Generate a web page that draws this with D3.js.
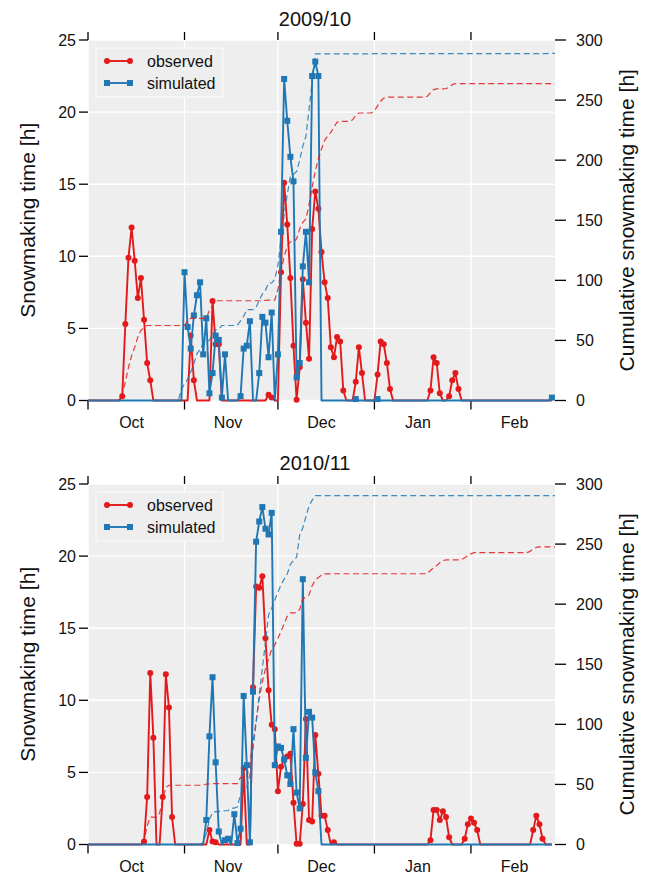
<!DOCTYPE html>
<html><head><meta charset="utf-8">
<script src="https://cdn.jsdelivr.net/npm/d3@7"></script>
<style>
body{margin:0;background:#fff}
text{font-family:"Liberation Sans",Arial,Helvetica,sans-serif;fill:#111}
</style>
</head><body>
<svg id="c" width="646" height="876"></svg>
<script>
// ---------------- DATA ----------------
const seasons = ["2009/10", "2010/11"];
const seasonStartYear = [2009, 2010];
const monthLabels = ["Oct", "Nov", "Dec", "Jan", "Feb"];
const yTicks = [0, 5, 10, 15, 20, 25];
const cumTicks = [0, 50, 100, 150, 200, 250, 300];
const seriesNames = ["observed", "simulated"];

// daily snowmaking hours, Oct 1 .. Feb 27 (150 days)
const observed0910 = [
  0,0,0,0,0,0,0,0,0,0,
  0,0.3,5.3,9.9,12.0,9.7,7.1,8.5,5.6,2.6,
  1.4,0,0,0,0,0,0,0,0,0,
  0,0,0,4.5,1.4,0,0,0,0,0,
  6.9,3.9,3.9,0,0,0,0,0,0,0,
  0,0,0,0,0,0,0,0,0.4,0.2,
  0,0,8.9,15.1,12.2,8.5,3.8,0.05,2.3,8.4,
  5.4,2.9,11.9,14.5,13.3,10.3,8.2,7.1,3.7,3.0,
  4.4,4.1,0.7,0,0,0,1.3,3.7,1.9,0,
  0,0,0,1.8,4.1,3.9,2.6,0.8,0,0,
  0,0,0,0,0,0,0,0,0,0,
  0.7,3.0,2.6,0.5,0,0,0.3,1.4,1.9,0.8,
  0,0,0,0,0,0,0,0,0,0,
  0,0,0,0,0,0,0,0,0,0,
  0,0,0,0,0,0,0,0,0,0
];
const simulated0910 = [
  0,0,0,0,0,0,0,0,0,0,
  0,0,0,0,0,0,0,0,0,0,
  0,0,0,0,0,0,0,0,0,0,
  0,8.9,5.1,3.6,5.9,7.3,8.2,3.2,5.7,0.5,
  1.9,4.5,4.2,0.2,3.2,0,0,0,0,0.3,
  3.6,3.8,5.5,0,0,1.9,5.8,5.4,3.0,6.1,
  0,3.2,11.7,22.3,19.4,16.9,15.2,1.6,2.6,9.3,
  11.7,8.2,22.5,23.5,22.5,0,0,0,0,0,
  0,0,0,0,0,0,0.1,0,0,0,
  0,0,0,0.1,0,0,0,0,0,0,
  0,0,0,0,0,0,0,0,0,0,
  0,0,0,0,0,0,0,0,0,0,
  0,0,0,0,0,0,0,0,0,0,
  0,0,0,0,0,0,0,0,0,0,
  0,0,0,0,0,0,0,0,0,0.2
];
const observed1011 = [
  0,0,0,0,0,0,0,0,0,0,
  0,0,0,0,0,0,0,0,0.2,3.3,
  11.9,7.4,0,0,3.3,11.8,9.5,1.9,0,0,
  0,0,0,0,0,0,0,0,0,1.0,
  0.2,0.15,0,0,0,0,0,0,0,0,
  5.3,0,0,10.9,17.9,17.8,18.6,14.3,10.7,8.3,
  8.0,3.7,5.4,5.9,6.1,6.3,2.9,0.05,0.05,2.8,
  8.7,1.7,1.6,7.6,4.9,2.0,2.0,1.0,0,0.15,
  0,0,0,0,0,0,0,0,0,0,
  0,0,0,0,0,0,0,0,0,0,
  0,0,0,0,0,0,0,0,0,0,
  0.3,2.4,2.4,1.7,2.3,1.9,0.5,0,0,0,
  0,0.4,1.4,1.8,1.5,1.0,0,0,0,0,
  0,0,0,0,0,0,0,0,0,0,
  0,0,0,1.0,2.0,1.4,0.4,0,0,0
];
const simulated1011 = [
  0,0,0,0,0,0,0,0,0,0,
  0,0,0,0,0,0,0,0,0,0,
  0,0,0,0,0,0,0,0,0,0,
  0,0,0,0,0,0,0,0,1.7,7.5,
  11.6,5.7,0.9,0,0.3,0.4,0,2.1,0.1,1.1,
  10.3,5.5,0.15,10.6,21.0,22.4,23.4,21.9,21.5,23.0,
  5.5,6.8,6.7,5.9,4.8,4.2,8.0,3.6,2.5,18.4,
  6.0,9.2,8.8,5.0,3.7,0,0,0,0,0,
  0,0,0,0,0,0,0,0,0,0,
  0,0,0,0,0,0,0,0,0,0,
  0,0,0,0,0,0,0,0,0,0,
  0,0,0,0,0,0,0,0,0,0,
  0,0,0,0,0,0,0,0,0,0,
  0,0,0,0,0,0,0,0,0,0,
  0,0,0,0,0,0,0,0,0,0
];
const observedBySeason = [observed0910, observed1011];
const simulatedBySeason = [simulated0910, simulated1011];

// ---------------- LAYOUT / STYLE ----------------
const RED = "#e31a1c", BLUE = "#1f78b4", BG = "#eeeeee";
const X0 = 88, X1 = 555;
const panelTops = [40, 484], PH = 360.5;
const MR = 3, MS = 6;
const svg = d3.select("#c");

seasons.forEach((season, i) => {
  const yr = seasonStartYear[i];
  const start = new Date(yr, 9, 1), end = new Date(yr + 1, 1, 28);
  const top = panelTops[i], bot = top + PH;
  const x = d3.scaleTime().domain([start, end]).range([X0, X1]);
  const y = d3.scaleLinear().domain([0, 25]).range([bot, top]);
  const yc = d3.scaleLinear().domain([0, 300]).range([bot, top]);
  const g = svg.append("g");

  const clipId = "clip" + i;
  g.append("clipPath").attr("id", clipId).append("rect")
    .attr("x", X0).attr("y", top - 4).attr("width", X1 - X0).attr("height", PH + 8);

  g.append("rect").attr("x", X0).attr("y", top).attr("width", X1 - X0)
    .attr("height", PH).attr("fill", BG);

  const months = d3.timeMonth.range(start, end);
  // grid
  g.append("g").selectAll("line").data(months).join("line")
    .attr("x1", d => x(d)).attr("x2", d => x(d)).attr("y1", top).attr("y2", bot)
    .attr("stroke", "#fff").attr("stroke-width", 1.4);
  g.append("g").selectAll("line").data(yTicks).join("line")
    .attr("x1", X0).attr("x2", X1).attr("y1", d => y(d)).attr("y2", d => y(d))
    .attr("stroke", "#fff").attr("stroke-width", 1.4);

  // axes ticks
  const ax = g.append("g").attr("stroke", "#000").attr("stroke-width", 1.3);
  ax.selectAll(".lt").data(yTicks).join("line")
    .attr("x1", X0 - 9).attr("x2", X0).attr("y1", d => y(d)).attr("y2", d => y(d));
  ax.selectAll(".rt").data(cumTicks).join("line")
    .attr("x1", X1).attr("x2", X1 + 11).attr("y1", d => yc(d)).attr("y2", d => yc(d));
  ax.selectAll(".bt").data(months).join("line")
    .attr("x1", d => x(d)).attr("x2", d => x(d)).attr("y1", bot).attr("y2", bot + 9);
  ax.selectAll(".tt").data(months).join("line")
    .attr("x1", d => x(d)).attr("x2", d => x(d)).attr("y1", top - 8).attr("y2", top);

  g.append("g").selectAll("text").data(yTicks).join("text")
    .attr("x", X0 - 12).attr("y", d => y(d)).attr("dy", "0.35em")
    .attr("text-anchor", "end").attr("font-size", 16).text(d => d);
  g.append("g").selectAll("text").data(cumTicks).join("text")
    .attr("x", X1 + 21).attr("y", d => yc(d)).attr("dy", "0.35em")
    .attr("text-anchor", "start").attr("font-size", 16).text(d => d);
  g.append("g").selectAll("text").data(months).join("text")
    .attr("x", d => x(d3.timeDay.offset(d, 14))).attr("y", bot + 27)
    .attr("text-anchor", "middle").attr("font-size", 16)
    .text((d, k) => monthLabels[k]);

  g.append("text").attr("x", 315).attr("y", top - 14).attr("text-anchor", "middle")
    .attr("font-size", 20).text(season);
  g.append("text").attr("transform", `translate(28,${(top + bot) / 2}) rotate(-90)`)
    .attr("dy", "0.35em").attr("text-anchor", "middle").attr("font-size", 21)
    .text("Snowmaking time [h]");
  g.append("text").attr("transform", `translate(627,${(top + bot) / 2}) rotate(-90)`)
    .attr("dy", "0.35em").attr("text-anchor", "middle").attr("font-size", 21)
    .text("Cumulative snowmaking time [h]");

  // series
  const obs = observedBySeason[i], sim = simulatedBySeason[i];
  const day = k => d3.timeDay.offset(start, k);
  const line = d3.line().x(d => x(d[0])).y(d => y(d[1]));
  const cline = d3.line().x(d => x(d[0])).y(d => yc(d[1]));
  const plot = g.append("g").attr("clip-path", `url(#${clipId})`);

  const drawSeries = (vals, color, shape) => {
    const pts = vals.map((v, k) => [day(k), v]);
    plot.append("path").attr("d", line(pts)).attr("fill", "none")
      .attr("stroke", color).attr("stroke-width", 1.9).attr("stroke-linejoin", "round");
    const nz = pts.filter(p => p[1] > 0);
    if (shape === "circle") {
      plot.append("g").selectAll("circle").data(nz).join("circle")
        .attr("cx", p => x(p[0])).attr("cy", p => y(p[1])).attr("r", MR).attr("fill", color);
    } else {
      plot.append("g").selectAll("rect").data(nz).join("rect")
        .attr("x", p => x(p[0]) - MS / 2).attr("y", p => y(p[1]) - MS / 2)
        .attr("width", MS).attr("height", MS).attr("fill", color);
    }
  };
  drawSeries(obs, RED, "circle");
  drawSeries(sim, BLUE, "square");

  const drawCum = (vals, color) => {
    const cs = Array.from(d3.cumsum(vals));
    const pts = cs.map((c, k) => [day(k - 1), c]);
    pts.push([end, cs[cs.length - 1]]);
    plot.append("path").attr("d", cline(pts)).attr("fill", "none")
      .attr("stroke", color).attr("stroke-width", 1.2).attr("stroke-opacity", 0.85)
      .attr("stroke-dasharray", "6,3.5");
  };
  drawCum(obs, RED);
  drawCum(sim, BLUE);

  // legend
  const lg = g.append("g");
  lg.append("rect").attr("x", 96).attr("y", top + 8).attr("width", 127).attr("height", 49)
    .attr("fill", BG).attr("stroke", "#fbfbfb").attr("stroke-width", 1.2);
  seriesNames.forEach((name, k) => {
    const ly = top + 21 + k * 22, color = k === 0 ? RED : BLUE;
    lg.append("line").attr("x1", 107).attr("x2", 130).attr("y1", ly).attr("y2", ly)
      .attr("stroke", color).attr("stroke-width", 1.9);
    [107, 130].forEach(cx => {
      if (k === 0) lg.append("circle").attr("cx", cx).attr("cy", ly).attr("r", MR).attr("fill", color);
      else lg.append("rect").attr("x", cx - MS / 2).attr("y", ly - MS / 2).attr("width", MS).attr("height", MS).attr("fill", color);
    });
    lg.append("text").attr("x", 147).attr("y", ly).attr("dy", "0.35em")
      .attr("font-size", 16).text(name);
  });
});
</script>
</body></html>
